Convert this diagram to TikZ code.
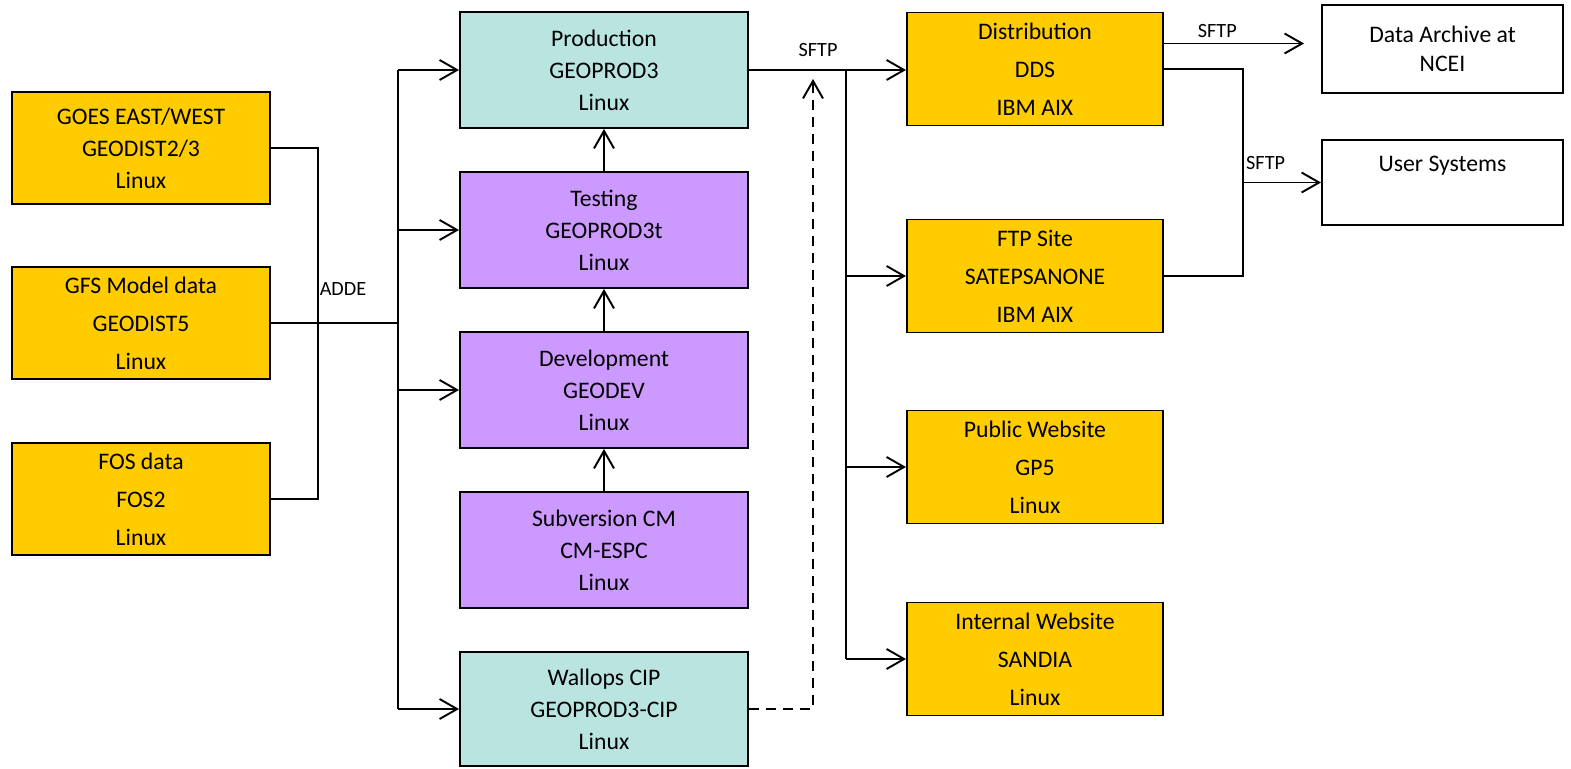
\documentclass[tikz,border=0pt]{standalone}
\usepackage{fontspec}
\setmainfont{Carlito}
\usetikzlibrary{arrows.meta,positioning,calc}
\definecolor{SrcOrange}{RGB}{255, 204, 0}
\definecolor{ProdTeal}{RGB}{185, 228, 224}
\definecolor{DevViolet}{RGB}{204, 153, 255}
\tikzset{
  sysbox/.style={draw=black, line width=1.1pt, align=center, font=\fontsize{13.5}{18.2}\selectfont},
  srcbox/.style={sysbox, fill=SrcOrange, minimum width=5.16cm, minimum height=2.24cm},
  midbox/.style={sysbox, minimum width=5.76cm, minimum height=2.32cm},
  outbox/.style={sysbox, fill=SrcOrange, minimum width=5.12cm, minimum height=2.26cm, font=\fontsize{13.5}{21.6}\selectfont},
  extbox/.style={sysbox, fill=white, minimum width=4.82cm},
  lbl/.style={font=\fontsize{11.5}{12}\selectfont, inner sep=1pt},
  conn/.style={line width=1.1pt},
  arr/.style={conn, -{Straight Barb[length=3.5mm, width=4mm, line width=1.1pt]}}
}
\begin{document}
\begin{tikzpicture}
  \useasboundingbox (0,0) rectangle (31.42,-15.38);
  % Data sources
  \node[srcbox] (goes) at (2.82, -2.96) {GOES EAST/WEST\\GEODIST2/3\\Linux};
  \node[srcbox, font=\fontsize{13.5}{21.6}\selectfont] (gfs) at (2.82, -6.46) {GFS Model data\\GEODIST5\\Linux};
  \node[srcbox, font=\fontsize{13.5}{21.6}\selectfont] (fos) at (2.82, -9.98) {FOS data\\FOS2\\Linux};
  % Processing systems
  \node[midbox, fill=ProdTeal] (prod) at (12.08, -1.40) {Production\\GEOPROD3\\Linux};
  \node[midbox, fill=DevViolet] (test) at (12.08, -4.60) {Testing\\GEOPROD3t\\Linux};
  \node[midbox, fill=DevViolet] (dev) at (12.08, -7.80) {Development\\GEODEV\\Linux};
  \node[midbox, fill=DevViolet] (svn) at (12.08, -11.00) {Subversion CM\\CM-ESPC\\Linux};
  \node[midbox, fill=ProdTeal, minimum height=2.28cm] (cip) at (12.08, -14.18) {Wallops CIP\\GEOPROD3-CIP\\Linux};
  % Distribution targets
  \node[outbox] (dist) at (20.70, -1.38) {Distribution\\DDS\\IBM AIX};
  \node[outbox] (ftp) at (20.70, -5.52) {FTP Site\\SATEPSANONE\\IBM AIX};
  \node[outbox] (pub) at (20.70, -9.34) {Public Website\\GP5\\Linux};
  \node[outbox] (int) at (20.70, -13.18) {Internal Website\\SANDIA\\Linux};
  % External
  \node[extbox, minimum height=1.76cm, font=\fontsize{13.5}{16.6}\selectfont] (ncei) at (28.85, -0.98) {Data Archive at\\NCEI};
  \node[extbox, minimum height=1.70cm, text height=0.35cm, text depth=0.79cm] (usr) at (28.85, -3.65) {User Systems};
  % ADDE feeds
  \coordinate (trunk) at (7.96, -6.46);
  \draw[conn] (goes.east) -- ++(0.94,0) |- (fos.east);
  \draw[conn] (gfs.east) -- (trunk);
  \node[lbl] (adde) at (6.86, -5.78) {ADDE};
  \draw[conn] (trunk |- prod.west) -- (trunk |- cip.west);
  \foreach \tgt in {prod, test, dev, cip}
    \draw[arr] (trunk |- \tgt.west) -- (\tgt.west);
  % Promotion path
  \draw[arr] (svn.north) -- (dev.south);
  \draw[arr] (dev.north) -- (test.south);
  \draw[arr] (test.north) -- (prod.south);
  % SFTP distribution
  \coordinate (bus) at (16.92, -1.40);
  \coordinate (dashtop) at (16.26, -1.58);
  \draw[arr] (prod.east) -- node[lbl, above=6pt, pos=0.44] {SFTP} (prod.east -| dist.west);
  \draw[conn] (bus) -- (bus |- int.west);
  \foreach \tgt in {ftp, pub, int}
    \draw[arr] (bus |- \tgt.west) -- (\tgt.west);
  \draw[arr, dash pattern=on 0.2cm off 0.14cm] (cip.east) -| (dashtop);
  % Outgoing
  \coordinate (join) at (24.86, -1.38);
  \draw[arr, shorten >=0.34cm] ([yshift=0.51cm]dist.east) -- node[lbl, above=2pt, pos=0.34] {SFTP} ([yshift=0.51cm]dist.east -| ncei.west);
  \draw[conn] (dist.east) -- (join) |- (ftp.east);
  \draw[arr] (join |- usr.west) -- node[lbl, above=6pt, pos=0.29] {SFTP} (usr.west);
\end{tikzpicture}
\end{document}
